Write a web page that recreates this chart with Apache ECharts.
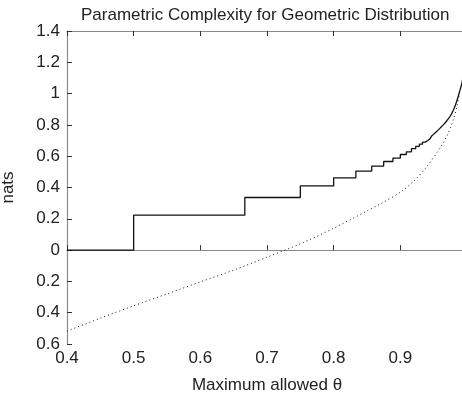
<!DOCTYPE html>
<html>
<head>
<meta charset="utf-8">
<script src="https://cdn.jsdelivr.net/npm/echarts@6/dist/echarts.min.js"></script>
<style>
  html, body { margin: 0; padding: 0; background: #fff; }
  #chart { width: 462px; height: 400px; }
</style>
</head>
<body>
<div id="chart"></div>
<script>
// Staircase part of the complexity curve: thresholds of the maximum allowed theta and the level after each jump
const stepTheta = [0.4, 0.5, 0.6667, 0.75, 0.8, 0.8333, 0.8571, 0.875, 0.8889, 0.9, 0.9091, 0.9167,
                   0.9231, 0.9286, 0.9333, 0.9375, 0.9412, 0.9444, 0.9474, 0.95];
const stepNats  = [0, 0.223, 0.336, 0.41, 0.462, 0.505, 0.537, 0.566, 0.588, 0.611, 0.628, 0.648,
                   0.663, 0.677, 0.69, 0.70, 0.711, 0.721, 0.731, 0.741];

// Near theta = 1 the steps become too fine to see and the curve rises smoothly
const tailTheta = [0.95, 0.9545, 0.96, 0.9655, 0.97, 0.975, 0.98, 0.9833, 0.9867, 0.99, 0.992, 0.995, 1.0];
const tailNats  = [0.741, 0.758, 0.781, 0.805, 0.828, 0.857, 0.898, 0.935, 0.98, 1.03, 1.06, 1.12, 1.2];

// Dotted reference curve
const dotTheta = [0.4, 0.45, 0.5, 0.55, 0.6, 0.65, 0.7, 0.75, 0.8, 0.85, 0.87, 0.9, 0.92, 0.94,
                  0.96, 0.97, 0.975, 0.98, 0.985, 0.9885];
const dotNats  = [-0.518, -0.435, -0.356, -0.28, -0.203, -0.128, -0.045, 0.04, 0.14, 0.25, 0.295,
                  0.37, 0.44, 0.535, 0.655, 0.73, 0.78, 0.84, 0.92, 1.0];

// Axis ticks
const xTicks = [0.4, 0.5, 0.6, 0.7, 0.8, 0.9];
const yMin = -0.6, yMax = 1.4, yStep = 0.2;

const pairs = (xs, ys) => xs.map((x, i) => [x, ys[i]]);

const FONT = 'Liberation Sans, Arial, Helvetica, sans-serif';
const TEXT = '#222';
const AXIS_GRAY = '#8a8a8a';
const FS = 17;

const chart = echarts.init(document.getElementById('chart'), null, { renderer: 'canvas' });

const axisCommon = {
  type: 'value',
  min: 0.4,
  max: 1.0,
  interval: 0.1,
  splitLine: { show: false },
  axisLine: { show: true, lineStyle: { color: AXIS_GRAY, width: 1.2 } },
  axisTick: { show: true, inside: true, length: 5, lineStyle: { color: '#333', width: 1 } }
};

chart.setOption({
  animation: false,
  backgroundColor: '#fff',
  title: {
    text: 'Parametric Complexity for Geometric Distribution',
    left: 76,
    top: 2,
    textStyle: { fontFamily: FONT, fontSize: FS, fontWeight: 'normal', color: TEXT }
  },
  // the plot box runs to theta = 1, just past the right edge of the canvas
  grid: { left: 67, right: -5, top: 31, bottom: 56, containLabel: false, outerBoundsMode: 'none' },
  xAxis: [
    Object.assign({}, axisCommon, {
      position: 'bottom',
      name: 'Maximum allowed \u03b8',
      nameLocation: 'middle',
      nameGap: 33,
      nameTextStyle: { fontFamily: FONT, fontSize: FS, color: TEXT },
      axisLabel: {
        fontFamily: FONT, fontSize: FS, color: TEXT, margin: 6,
        formatter: v => {
          const r = Math.round(v * 10) / 10;
          return xTicks.includes(r) ? r.toFixed(1) : '';
        }
      }
    }),
    Object.assign({}, axisCommon, {
      position: 'top',
      axisLabel: { show: false }
    })
  ],
  yAxis: {
    type: 'value',
    min: yMin,
    max: yMax,
    interval: yStep,
    name: 'nats',
    nameLocation: 'middle',
    nameRotate: 90,
    nameGap: 50,
    nameTextStyle: { fontFamily: FONT, fontSize: FS, color: TEXT },
    splitLine: { show: false },
    axisLine: { show: true, lineStyle: { color: AXIS_GRAY, width: 1.2 } },
    axisTick: { show: true, inside: true, length: 5, lineStyle: { color: '#333', width: 1 } },
    axisLabel: {
      fontFamily: FONT, fontSize: FS, color: TEXT, margin: 7,
      // tick labels show magnitudes only
      formatter: v => {
        const a = Math.abs(Math.round(v * 10) / 10);
        return a === 0 ? '0' : (Number.isInteger(a) ? String(a) : a.toFixed(1));
      }
    }
  },
  series: [
    {
      name: 'steps',
      type: 'line',
      step: 'end',
      showSymbol: false,
      data: pairs(stepTheta, stepNats),
      lineStyle: { color: '#111', width: 1.3 },
      z: 3
    },
    {
      name: 'tail',
      type: 'line',
      showSymbol: false,
      smooth: 0.3,
      data: pairs(tailTheta, tailNats),
      lineStyle: { color: '#111', width: 1.3 },
      z: 3
    },
    {
      name: 'dotted',
      type: 'line',
      showSymbol: false,
      smooth: 0.3,
      data: pairs(dotTheta, dotNats),
      lineStyle: { color: '#111', width: 1, type: [1, 3] },
      z: 2
    }
  ]
});
</script>
</body>
</html>
